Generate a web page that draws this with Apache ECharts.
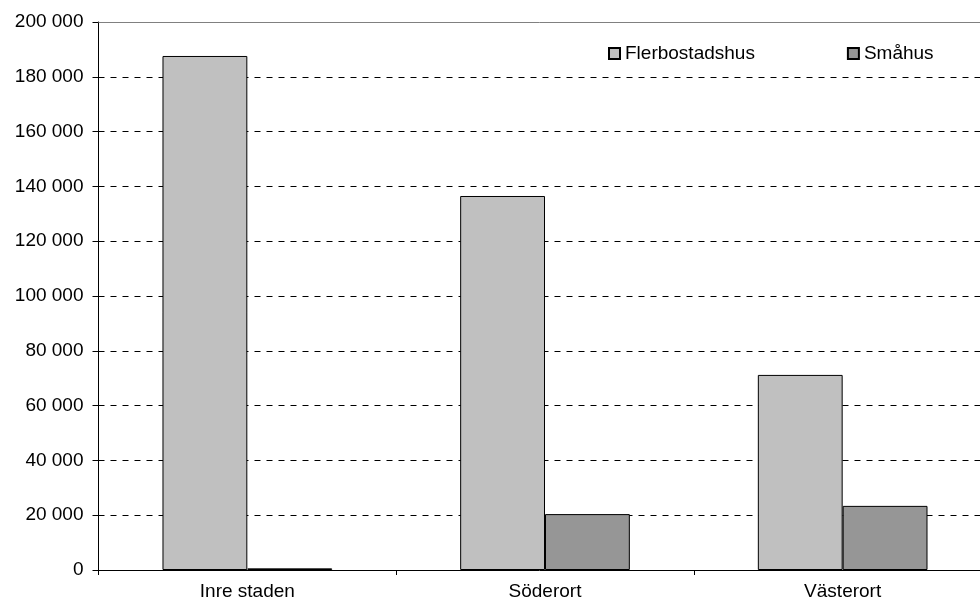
<!DOCTYPE html>
<html><head><meta charset="utf-8">
<script src="https://cdn.jsdelivr.net/npm/echarts@6/dist/echarts.min.js"></script>
<style>html,body{margin:0;padding:0;background:#fff}#c{width:980px;height:605px}</style>
</head><body><div id="c"></div>
<script>
const categories = ["Inre staden", "Söderort", "Västerort"];
const flerbostadshus = [187600, 136500, 71200];
const smahus = [600, 20400, 23400];
const seriesNames = ["Flerbostadshus", "Småhus"];

const chart = echarts.init(document.getElementById('c'), null, {renderer: 'canvas'});
const fmt = v => String(v).replace(/\B(?=(\d{3})+(?!\d))/g, ' ');
const font = 'Liberation Sans, Arial, sans-serif';
chart.setOption({
  animation: false,
  grid: {left: 98.5, width: 893, top: 22, bottom: 35, containLabel: false, outerBoundsMode: 'none'},
  legend: {
    left: 603, top: 39, itemGap: 92, itemWidth: 11, itemHeight: 11,
    icon: 'rect',
    textStyle: {fontFamily: font, fontSize: 19, color: '#000'},
    data: seriesNames
  },
  xAxis: {
    type: 'category', data: categories,
    axisLine: {lineStyle: {color: '#000', width: 1}},
    axisTick: {show: true, length: 5, lineStyle: {color: '#000'}},
    axisLabel: {fontFamily: font, fontSize: 19, color: '#000', margin: 12}
  },
  yAxis: {
    type: 'value', min: 0, max: 200000, interval: 20000,
    axisLine: {show: true, lineStyle: {color: '#000'}},
    axisTick: {show: true, length: 6, lineStyle: {color: '#000'}},
    axisLabel: {fontFamily: font, fontSize: 19, color: '#000', margin: 15, formatter: fmt},
    splitLine: {show: true, lineStyle: {color: '#000', type: [6, 6], width: 1}}
  },
  series: [
    {name: seriesNames[0], type: 'bar', data: flerbostadshus, barGap: '0%', barCategoryGap: '43%',
     itemStyle: {color: '#C0C0C0', borderColor: '#000', borderWidth: 1},
     markLine: {silent: true, symbol: 'none', label: {show: false},
       lineStyle: {color: '#808080', type: 'solid', width: 1}, data: [{yAxis: 200000}]}},
    {name: seriesNames[1], type: 'bar', data: smahus,
     itemStyle: {color: '#969696', borderColor: '#000', borderWidth: 1}}
  ]
});
</script></body></html>
